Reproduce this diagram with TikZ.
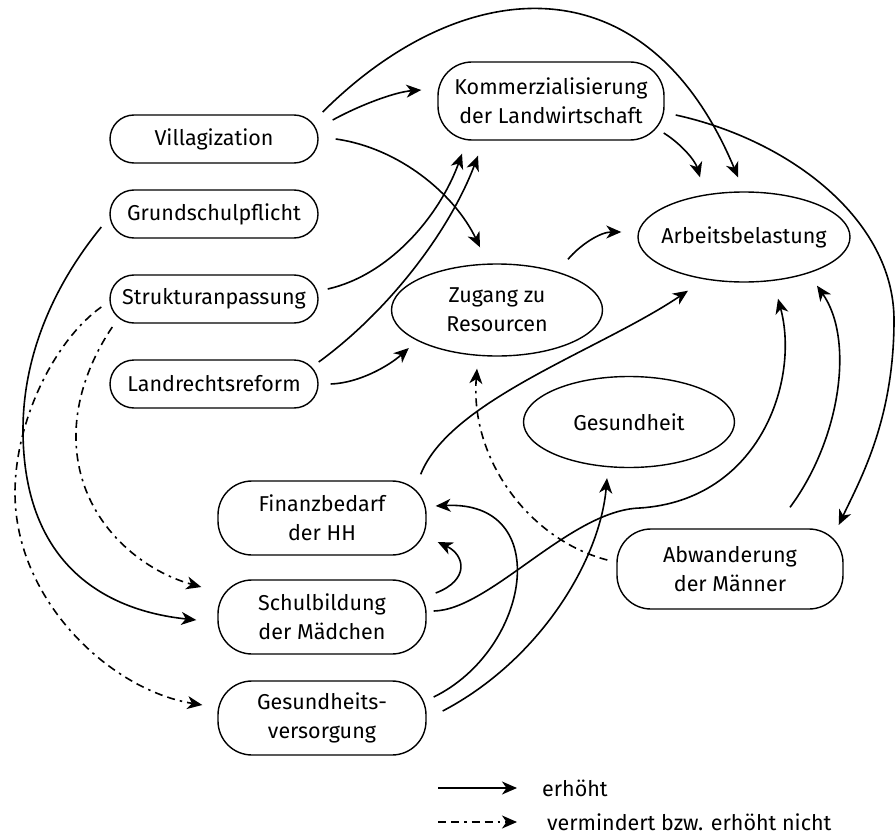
\documentclass[tikz,border=0pt]{standalone}
\usepackage{fontspec}
\setmainfont{Fira Sans}
\usetikzlibrary{arrows.meta,calc,shapes.geometric}
\newcommand{\fs}{\fontsize{21.5}{29}\selectfont}
\tikzset{
 box/.style={draw, line width=1.4pt, rounded corners=24pt, minimum width=208pt, minimum height=48pt, align=center, inner sep=0pt, font=\fs},
 boxtwo/.style={box, rounded corners=34pt, minimum height=74pt},
 ell/.style={draw, ellipse, line width=1.4pt, inner sep=0pt},
 con/.style={line width=1.6pt, -{Stealth[length=15pt,width=13pt,inset=4.5pt]}},
 neg/.style={con, dash pattern=on 8pt off 5pt on 8pt off 5pt on 2.5pt off 5pt},
}
\begin{document}
\begin{tikzpicture}[x=1pt,y=-1pt]
\useasboundingbox (0,0) rectangle (896,837);
% nodes
\node[box] (vil) at (214,139) {Villagization};
\node[box] (gru) at (214,214) {Grundschulpflicht};
\node[box] (str) at (214,299) {Strukturanpassung};
\node[box] (lan) at (214,384) {Landrechtsreform};
\node[boxtwo, minimum width=226pt, minimum height=78pt] (kom) at (551,101) {Kommerzialisierung\\der Landwirtschaft};
\node[ell, minimum width=212pt, minimum height=90pt, label={[font=\fs]center:Arbeitsbelastung}] (arb) at (744,237) {};
\node[ell, minimum width=211pt, minimum height=92pt, label={[font=\fs,align=center]center:Zugang zu\\Resourcen}] (zug) at (497,310) {};
\node[ell, minimum width=211pt, minimum height=91pt, label={[font=\fs]center:Gesundheit}] (ges) at (629,422) {};
\node[boxtwo] (fin) at (322,518) {Finanzbedarf\\der HH};
\node[boxtwo] (sch) at (322,617) {Schulbildung\\der Mädchen};
\node[boxtwo] (gv) at (322,718) {Gesundheits-\\versorgung};
\node[boxtwo, minimum width=226pt, minimum height=80pt] (abw) at (730,569) {Abwanderung\\der Männer};
% connectors
\draw[con] ($(vil.east)+(4,-27)$) .. controls (460,-25) and (645,-45) .. ($(arb.north)+(-6,-14)$);
\draw[con] ($(vil.east)+(14,-19)$) .. controls (360,105) and (395,92) .. ($(kom.west)+(-16,-11)$);
\draw[con] ($(vil.east)+(17,0)$) .. controls (400,148) and (455,195) .. ($(zug.north)+(-17,-16)$);
\draw[con] ($(str.east)+(9,-10)$) .. controls (390,275) and (440,215) .. ($(kom.south)+(-89,13)$);
\draw[con] ($(lan.east)+(0,-22)$) .. controls (390,310) and (450,230) .. ($(kom.south)+(-73,15)$);
\draw[con] ($(lan.east)+(12,0)$) .. controls (360,383) and (390,365) .. ($(zug.west)+(18,38)$);
\draw[con] ($(kom.east)+(-1,32)$) .. controls (680,143) and (695,160) .. ($(arb.north)+(-44,-14)$);
\draw[con] ($(kom.east)+(11,14)$) .. controls (790,140) and (894,220) .. (894,320) .. controls (894,420) and (860,480) .. ($(abw.east)+(-5,-44)$);
\draw[con] ($(zug.north)+(71,-4)$) .. controls (580,245) and (600,232) .. ($(arb.west)+(-16,-5)$);
\draw[con] ($(fin.north east)+(-6,-6)$) .. controls (450,400) and (600,350) .. ($(arb.south)+(-56,8)$);
\draw[con] ($(sch.east)+(9,-24)$) .. controls (470,580) and (465,555) .. ($(fin.east)+(11,24)$);
\draw[con] ($(sch.east)+(7,-6)$) .. controls (490,610) and (570,510) .. (640,508) .. controls (760,500) and (800,380) .. ($(arb.south)+(34,16)$);
\draw[con] ($(gv.east)+(7,-21)$) .. controls (530,650) and (555,500) .. ($(fin.east)+(9,-12)$);
\draw[con] ($(gv.east)+(16,-7)$) .. controls (540,660) and (600,560) .. ($(ges.south)+(-22,10)$);
\draw[con] ($(abw.north)+(60,-21)$) .. controls (840,440) and (855,340) .. ($(arb.south)+(73,3)$);
\draw[neg] ($(abw.west)+(-9,-9)$) .. controls (530,540) and (470,460) .. ($(zug.south)+(-20,12)$);
\draw[con] ($(gru.west)+(-8,13)$) .. controls (50,290) and (23,360) .. (23,430) .. controls (23,560) and (100,610) .. ($(sch.west)+(-21,3)$);
\draw[neg] ($(str.west)+(3,28)$) .. controls (90,360) and (75,400) .. (76,440) .. controls (78,520) and (140,570) .. ($(sch.west)+(-16,-30)$);
\draw[neg] ($(str.west)+(-8,8)$) .. controls (55,340) and (15,420) .. (15,493) .. controls (15,600) and (110,690) .. ($(gv.west)+(-15,-13)$);
% legend
\coordinate (l1a) at (438,788);
\coordinate (l1b) at (517,788);
\coordinate (l2a) at (438,822);
\coordinate (l2b) at (517,822);
\node[anchor=west, font=\fs, inner sep=0pt] (t1) at (542,788) {erhöht};
\node[anchor=west, font=\fs, inner sep=0pt] (t2) at (547,822) {vermindert bzw. erhöht nicht};
\draw[con] (l1a) -- (l1b);
\draw[neg] (l2a) -- (l2b);
\end{tikzpicture}
\end{document}
